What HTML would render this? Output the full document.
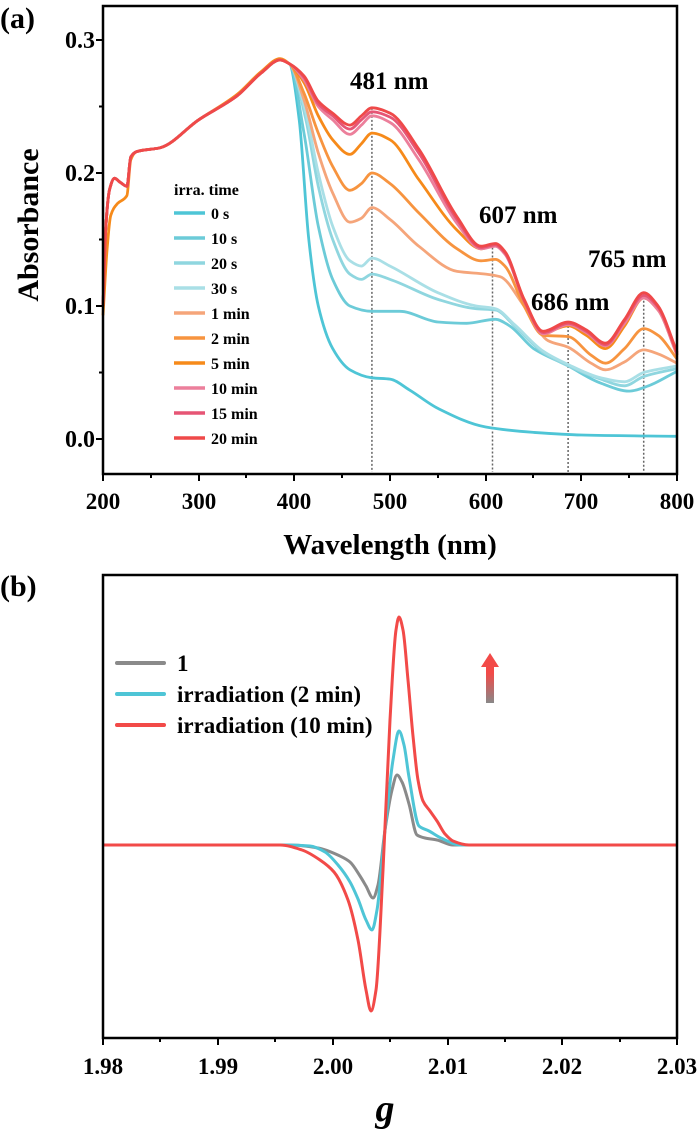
<!DOCTYPE html>
<html><head><meta charset="utf-8">
<style>
html,body{margin:0;padding:0;background:#fff;}
svg{display:block;font-family:"Liberation Serif",serif;font-weight:bold;}
</style></head>
<body>
<svg id="s" width="700" height="1131" viewBox="0 0 700 1131" xmlns="http://www.w3.org/2000/svg">
<g id="a"></g>
<rect x="103" y="6" width="574" height="468" fill="none" stroke="#000" stroke-width="2.5"/>
<g stroke="#000" stroke-width="2">
<line x1="103" y1="474" x2="103" y2="481"/><line x1="199" y1="474" x2="199" y2="481"/><line x1="294" y1="474" x2="294" y2="481"/><line x1="390" y1="474" x2="390" y2="481"/><line x1="486" y1="474" x2="486" y2="481"/><line x1="581" y1="474" x2="581" y2="481"/><line x1="677" y1="474" x2="677" y2="481"/>
<line x1="151" y1="474" x2="151" y2="478"/><line x1="246" y1="474" x2="246" y2="478"/><line x1="342" y1="474" x2="342" y2="478"/><line x1="438" y1="474" x2="438" y2="478"/><line x1="533" y1="474" x2="533" y2="478"/><line x1="629" y1="474" x2="629" y2="478"/>
<line x1="96" y1="439" x2="103" y2="439"/><line x1="96" y1="306" x2="103" y2="306"/><line x1="96" y1="173" x2="103" y2="173"/><line x1="96" y1="40" x2="103" y2="40"/>
<line x1="99" y1="372.5" x2="103" y2="372.5"/><line x1="99" y1="239.5" x2="103" y2="239.5"/><line x1="99" y1="106.5" x2="103" y2="106.5"/>
</g>
<g font-size="23" text-anchor="middle">
<text x="103" y="509">200</text><text x="199" y="509">300</text><text x="294" y="509">400</text><text x="390" y="509">500</text><text x="486" y="509">600</text><text x="581" y="509">700</text><text x="677" y="509">800</text>
</g>
<g font-size="24" text-anchor="end">
<text x="95" y="447">0.0</text><text x="95" y="314">0.1</text><text x="95" y="181">0.2</text><text x="95" y="48">0.3</text>
</g>
<text x="390" y="554" font-size="29" text-anchor="middle">Wavelength (nm)</text>
<text transform="translate(38,225) rotate(-90)" font-size="30" text-anchor="middle">Absorbance</text>
<text x="0" y="28" font-size="30">(a)</text>
<g font-size="25">
<text x="350" y="89">481 nm</text><text x="479" y="223">607 nm</text><text x="588" y="267">765 nm</text><text x="531" y="310">686 nm</text>
</g>
<g id="leg" font-size="16"><text x="174" y="195">irra. time</text></g>

<g id="b"></g>
<rect x="103" y="575" width="574" height="463" fill="none" stroke="#000" stroke-width="2.5"/>
<g stroke="#000" stroke-width="2">
<line x1="103" y1="1038" x2="103" y2="1045"/><line x1="218" y1="1038" x2="218" y2="1045"/><line x1="333" y1="1038" x2="333" y2="1045"/><line x1="448" y1="1038" x2="448" y2="1045"/><line x1="562" y1="1038" x2="562" y2="1045"/><line x1="677" y1="1038" x2="677" y2="1045"/>
<line x1="160" y1="1038" x2="160" y2="1042"/><line x1="275" y1="1038" x2="275" y2="1042"/><line x1="390" y1="1038" x2="390" y2="1042"/><line x1="505" y1="1038" x2="505" y2="1042"/><line x1="620" y1="1038" x2="620" y2="1042"/>
</g>
<g font-size="23" text-anchor="middle">
<text x="103" y="1074">1.98</text><text x="218" y="1074">1.99</text><text x="333" y="1074">2.00</text><text x="448" y="1074">2.01</text><text x="562" y="1074">2.02</text><text x="677" y="1074">2.03</text>
</g>
<text x="385" y="1121" font-size="38" font-style="italic" text-anchor="middle">g</text>
<text x="0" y="596" font-size="30">(b)</text>
<g stroke-width="4" stroke-linecap="round">
<line x1="117" y1="663" x2="164" y2="663" stroke="#8a8a8a"/>
<line x1="117" y1="694" x2="164" y2="694" stroke="#4ec5d6"/>
<line x1="117" y1="725" x2="164" y2="725" stroke="#f24a48"/>
</g>
<g font-size="23">
<text x="177" y="671">1</text><text x="177" y="702">irradiation (2 min)</text><text x="177" y="733">irradiation (10 min)</text>
</g>
<defs><linearGradient id="gr" x1="0" y1="1" x2="0" y2="0"><stop offset="0" stop-color="#888"/><stop offset="0.6" stop-color="#f24a48"/></linearGradient></defs>
<polygon points="486,703 494,703 494,667 499,667 490,653 481,667 486,667" fill="url(#gr)"/>
</svg>
<script>
function mono(pts){ // monotone cubic in x, sampled to polyline
  const n=pts.length, xs=pts.map(p=>p[0]), ys=pts.map(p=>p[1]);
  const d=[],m=[];
  for(let i=0;i<n-1;i++)d.push((ys[i+1]-ys[i])/(xs[i+1]-xs[i]));
  m[0]=d[0];m[n-1]=d[n-2];
  for(let i=1;i<n-1;i++){ if(d[i-1]*d[i]<=0)m[i]=0; else{const w1=2*(xs[i+1]-xs[i])+(xs[i]-xs[i-1]),w2=(xs[i+1]-xs[i])+2*(xs[i]-xs[i-1]);m[i]=(w1+w2)/(w1/d[i-1]+w2/d[i]);}}
  let s="M"+xs[0].toFixed(1)+","+ys[0].toFixed(1);
  for(let i=0;i<n-1;i++){const h=xs[i+1]-xs[i];
    s+="C"+(xs[i]+h/3).toFixed(1)+","+(ys[i]+m[i]*h/3).toFixed(1)+" "+(xs[i+1]-h/3).toFixed(1)+","+(ys[i+1]-m[i+1]*h/3).toFixed(1)+" "+xs[i+1].toFixed(1)+","+ys[i+1].toFixed(1);}
  return s;
}
const NS="http://www.w3.org/2000/svg";
function path(g,d,col,w){const p=document.createElementNS(NS,"path");p.setAttribute("d",d);p.setAttribute("fill","none");p.setAttribute("stroke",col);p.setAttribute("stroke-width",w);p.setAttribute("stroke-linejoin","round");g.appendChild(p);}
const X=l=>103+(l-200)*0.957, Y=a=>439-a*1330;
const common=[[200,.1],[203,.16],[207,.188],[212,.196],[218,.193],[225,.19],[229,.212],[235,.216],[260,.219],[300,.24],[340,.258],[365,.275],[385,.285],[395,.282]];
const commonO=[[200,.093],[204,.14],[208,.168],[215,.177],[225,.183],[229,.21],[235,.216],[260,.219],[300,.24],[340,.259],[365,.276],[385,.286],[395,.282]];
const series=[
 ["0 s","#4ec5d6",[[405,.24],[415,.15],[425,.1],[440,.068],[458,.052],[481,.046],[500,.045],[520,.037],[550,.023],[600,.009],[650,.005],[700,.003],[800,.002]]],
 ["10 s","#6ccbd8",[[410,.23],[425,.16],[440,.12],[458,.1],[481,.096],[510,.096],[550,.088],[580,.087],[610,.09],[625,.085],[650,.068],[686,.055],[720,.042],[750,.036],[770,.04],[800,.051]]],
 ["20 s","#8fd6df",[[412,.24],[425,.19],[440,.15],[458,.124],[470,.12],[481,.124],[500,.12],[550,.105],[590,.098],[610,.097],[630,.085],[660,.065],[686,.055],[720,.045],[745,.04],[765,.047],[800,.053]]],
 ["30 s","#a9dfe6",[[412,.245],[425,.2],[440,.16],[458,.134],[470,.13],[481,.136],[500,.13],[550,.11],[590,.1],[610,.098],[630,.086],[660,.066],[686,.056],[720,.046],[745,.043],[765,.05],[800,.055]]],
 ["1 min","#f5a57a",[[410,.255],[425,.215],[440,.185],[458,.163],[470,.166],[481,.174],[500,.165],[530,.145],[570,.126],[600,.124],[615,.122],[640,.1],[665,.074],[686,.069],[710,.057],[725,.052],[745,.058],[765,.067],[780,.064],[800,.057]]],
 ["2 min","#f7943f",[[410,.26],[425,.23],[440,.205],[458,.187],[470,.192],[481,.2],[500,.192],[530,.17],[570,.143],[595,.134],[610,.135],[620,.13],[640,.1],[660,.078],[686,.077],[710,.063],[725,.057],[745,.068],[765,.083],[780,.078],[800,.06]]],
 ["5 min","#f68a1a",[[410,.268],[425,.243],[440,.225],[458,.214],[470,.222],[481,.23],[500,.225],[530,.195],[570,.157],[595,.143],[610,.146],[620,.14],[640,.105],[660,.08],[686,.085],[705,.078],[725,.068],[745,.085],[765,.106],[780,.097],[800,.063]]],
 ["10 min","#ec7f9b",[[410,.27],[425,.25],[440,.24],[458,.229],[470,.236],[481,.243],[500,.238],[530,.21],[570,.162],[595,.143],[610,.145],[620,.139],[640,.104],[660,.079],[686,.086],[705,.08],[725,.07],[745,.087],[765,.106],[780,.097],[800,.063]]],
 ["15 min","#e65575",[[410,.272],[425,.252],[440,.243],[458,.233],[470,.24],[481,.246],[500,.242],[530,.215],[570,.165],[595,.144],[610,.146],[620,.14],[640,.104],[660,.08],[686,.087],[705,.081],[725,.071],[745,.089],[765,.108],[780,.099],[800,.064]]],
 ["20 min","#ef4949",[[410,.273],[425,.254],[440,.245],[458,.236],[470,.243],[481,.249],[500,.245],[530,.218],[570,.167],[595,.145],[610,.147],[620,.141],[640,.105],[660,.081],[686,.088],[705,.082],[725,.072],[745,.09],[765,.11],[780,.1],[800,.065]]]
];
const ga=document.getElementById("a"), leg=document.getElementById("leg");
[[481,.249],[607,.147],[686,.088],[765,.11]].forEach(([l,a])=>{const ln=document.createElementNS(NS,"line");ln.setAttribute("x1",X(l));ln.setAttribute("x2",X(l));ln.setAttribute("y1",Y(a));ln.setAttribute("y2",472);ln.setAttribute("stroke","#666");ln.setAttribute("stroke-width","1.5");ln.setAttribute("stroke-dasharray","2,2");ga.appendChild(ln);});
series.forEach((s,i)=>{
  const base=(i==6)?commonO:common;
  const pts=base.concat(s[2]).map(p=>[X(p[0]),Y(p[1])]);
  path(ga,mono(pts),s[1],2.8);
  const y=213+i*25;
  const ln=document.createElementNS(NS,"line");ln.setAttribute("x1",174);ln.setAttribute("x2",205);ln.setAttribute("y1",y);ln.setAttribute("y2",y);ln.setAttribute("stroke",s[1]);ln.setAttribute("stroke-width",3.5);leg.appendChild(ln);
  const t=document.createElementNS(NS,"text");t.setAttribute("x",211);t.setAttribute("y",y+6);t.textContent=s[0];leg.appendChild(t);
});
const gb=document.getElementById("b");
const gray=[[103,845],[290,845],[318,848],[340,856],[350,862],[360,876],[366,886],[373,898],[378,885],[385,830],[392,790],[397,775],[402,782],[409,804],[417,835],[425,838],[437,840],[453,845],[677,845]];
const cyan=[[103,845],[285,845],[310,846],[325,852],[338,865],[350,882],[358,899],[366,920],[372,930],[377,910],[385,830],[393,760],[399,731],[404,745],[409,777],[419,826],[429,831],[441,838],[461,845],[677,845]];
const red=[[103,845],[280,845],[302,850],[320,860],[334,872],[348,900],[358,940],[366,990],[371,1011],[376,990],[383,870],[390,720],[396,630],[399,617],[403,630],[408,680],[413,736],[418,780],[423,801],[430,811],[437,821],[445,834],[453,841],[469,845],[677,845]];
path(gb,mono(gray),"#8a8a8a",3);
path(gb,mono(cyan),"#4ec5d6",3);
path(gb,mono(red),"#f24a48",3);
</script>
</body></html>
